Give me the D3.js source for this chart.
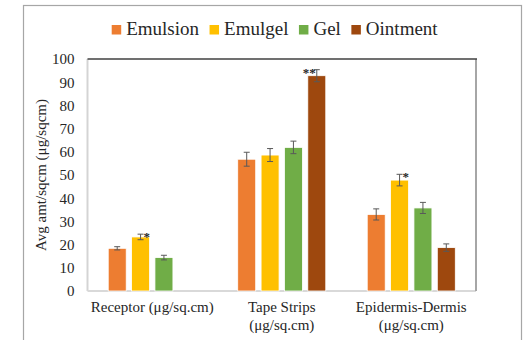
<!DOCTYPE html>
<html>
<head>
<meta charset="utf-8">
<script src="https://cdn.jsdelivr.net/npm/d3@7"></script>
<style>
	body { margin: 0; background: #fff; }
	svg text { font-family: "Liberation Serif", "Times New Roman", serif; fill: #262626; }
</style>
</head>
<body>
<div id="chart"></div>
<script>
// data
var categories = [["Receptor (μg/sq.cm)"], ["Tape Strips", "(μg/sq.cm)"], ["Epidermis-Dermis", "(μg/sq.cm)"]]
var seriesNames = ["Emulsion", "Emulgel", "Gel", "Ointment"]
var seriesColors = ["#ED7D31", "#FFC000", "#70AD47", "#9E480E"]
var emulsion = [18.4, 56.8, 33.0]
var emulgel = [23.3, 58.6, 47.8]
var gel = [14.4, 61.9, 35.8]
var ointment = [null, 92.8, 18.7]
var emulsionErr = [0.7, 3.0, 2.4]
var emulgelErr = [1.2, 2.8, 2.5]
var gelErr = [1.0, 2.7, 2.4]
var ointmentErr = [null, 2.6, 1.6]
var yTicks = [0, 10, 20, 30, 40, 50, 60, 70, 80, 90, 100]
var yTitle = "Avg amt/sqcm (μg/sqcm)"
// significance marks: category index, series index, label
var stars = [[0, 1, "*"], [1, 3, "**"], [2, 1, "*"]]

var values = [emulsion, emulgel, gel, ointment]
var errors = [emulsionErr, emulgelErr, gelErr, ointmentErr]

var width = 524, height = 340
var margin = {top: 59, right: 48, bottom: 49, left: 87.5}

var svg = d3.select("#chart").append("svg")
	.attr("width", width)
	.attr("height", height)

// outer chart frame
svg.append("rect")
	.attr("x", 23.5).attr("y", 5.5)
	.attr("width", 498).attr("height", 340)
	.attr("fill", "none")
	.attr("stroke", "#a6a6a6")
	.attr("stroke-width", 1.2)

var x0 = d3.scaleBand()
	.domain(d3.range(categories.length))
	.range([margin.left, width - margin.right])

var x1 = d3.scaleBand()
	.domain(d3.range(seriesNames.length))
	.range([x0.bandwidth() * 0.16, x0.bandwidth() * 0.84])
	.paddingInner(0.23)

var y = d3.scaleLinear()
	.domain([0, 100])
	.range([height - margin.bottom, margin.top])

// plot area frame
var pl = margin.left, pr = width - margin.right, pt = margin.top, pb = height - margin.bottom
svg.append("line").attr("x1", pl).attr("x2", pl).attr("y1", pt).attr("y2", pb)
	.attr("stroke", "#d4d4d4").attr("stroke-width", 2)
svg.append("line").attr("x1", pl).attr("x2", pr).attr("y1", pb).attr("y2", pb)
	.attr("stroke", "#d9d9d9").attr("stroke-width", 2)
svg.append("line").attr("x1", pr).attr("x2", pr).attr("y1", pt).attr("y2", pb)
	.attr("stroke", "#a6a6a6").attr("stroke-width", 2)
svg.append("line").attr("x1", pl).attr("x2", pr + 1).attr("y1", pt).attr("y2", pt)
	.attr("stroke", "#404040").attr("stroke-width", 1.6)

// y axis labels
var yAxis = svg.append("g")
	.attr("transform", "translate(" + (margin.left - 13) + ",0)")
	.call(d3.axisLeft(y).tickValues(yTicks).tickSize(0).tickPadding(0))
yAxis.select(".domain").remove()
yAxis.selectAll("text")
	.style("font-size", "15px")
	.attr("font-family", null)
	.attr("fill", "#262626")

svg.append("text")
	.attr("transform", "translate(46," + ((pt + pb) / 2) + ") rotate(-90)")
	.attr("text-anchor", "middle")
	.style("font-size", "15px")
	.text(yTitle)

// category labels
categories.forEach(function(lines, i){
	var t = svg.append("text")
		.attr("text-anchor", "middle")
		.style("font-size", "15px")
	lines.forEach(function(line, j){
		t.append("tspan")
			.attr("x", x0(i) + x0.bandwidth() / 2)
			.attr("y", 312 + j * 18)
			.text(line)
	})
})

// bars
var groups = svg.selectAll(".grp")
	.data(categories)
	.enter().append("g")
	.attr("class", "grp")
	.attr("transform", function(d, i){ return "translate(" + x0(i) + ",0)" })

groups.each(function(cat, ci){
	var g = d3.select(this)
	seriesNames.forEach(function(s, si){
		var v = values[si][ci]
		if(v === null) return
		g.append("rect")
			.attr("x", x1(si))
			.attr("y", y(v))
			.attr("width", x1.bandwidth())
			.attr("height", y(0) - y(v))
			.attr("fill", seriesColors[si])
			.attr("stroke", "#fff")
			.attr("stroke-width", 0.8)

		var e = errors[si][ci]
		var cx = x1(si) + x1.bandwidth() / 2
		g.append("line")
			.attr("x1", cx).attr("x2", cx)
			.attr("y1", y(v + e)).attr("y2", y(v - e))
			.attr("stroke", "#595959").attr("stroke-width", 1)
		;[v + e, v - e].forEach(function(val){
			g.append("line")
				.attr("x1", cx - 3).attr("x2", cx + 3)
				.attr("y1", y(val)).attr("y2", y(val))
				.attr("stroke", "#595959").attr("stroke-width", 1)
		})
	})
})

// significance stars
stars.forEach(function(st){
	var ci = st[0], si = st[1]
	var v = values[si][ci] + errors[si][ci]
	var cx = x0(ci) + x1(si) + x1.bandwidth() / 2
	var right = st[2].length == 1
	svg.append("text")
		.attr("x", right ? cx + 3 : cx - 1)
		.attr("y", y(v) + 7)
		.attr("text-anchor", right ? "start" : "end")
		.style("font-size", "13px")
		.style("font-weight", "bold")
		.text(st[2])
})

// legend, laid out left to right from measured text widths
var legend = svg.append("g")
var lx = 111.7
seriesNames.forEach(function(s, i){
	legend.append("rect")
		.attr("x", lx).attr("y", 25)
		.attr("width", 9.5).attr("height", 9.5)
		.attr("fill", seriesColors[i])
	var t = legend.append("text")
		.attr("x", lx + 14.5)
		.attr("y", 34.5)
		.style("font-size", "19px")
		.text(s)
	lx = lx + 14.5 + t.node().getComputedTextLength() + 10.5
})
</script>
</body>
</html>
